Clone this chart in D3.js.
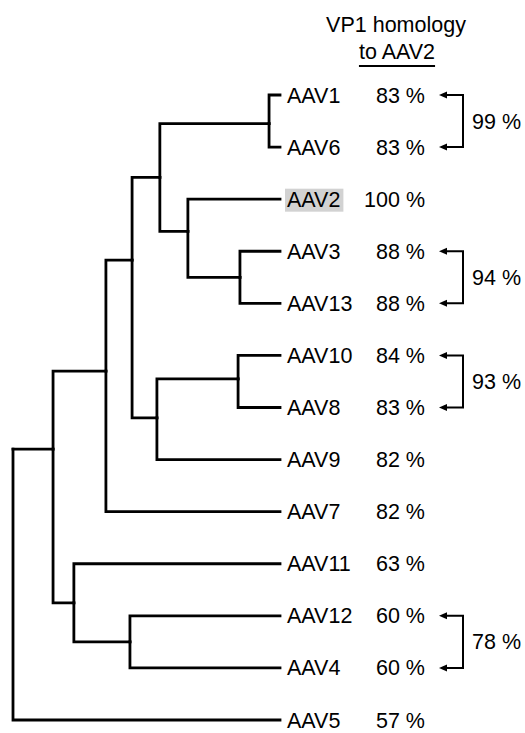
<!DOCTYPE html>
<html>
<head>
<meta charset="utf-8">
<script src="https://cdn.jsdelivr.net/npm/d3@7"></script>
<style>
  body { margin: 0; background: #fff; }
  svg { display: block; font-family: Arial, "Liberation Sans", sans-serif; }
</style>
</head>
<body>
<svg class="canvas" width="525" height="733"></svg>
<script>
// leaves, top to bottom
const leafNames = ["AAV1", "AAV6", "AAV2", "AAV3", "AAV13", "AAV10", "AAV8", "AAV9", "AAV7", "AAV11", "AAV12", "AAV4", "AAV5"];
const leafParents = ["n16", "n16", "n2313", "n313", "n313", "n108", "n108", "n157", "n106", "n74", "n124", "n124", "root"];
const homology = [83, 83, 100, 88, 88, 84, 83, 82, 82, 63, 60, 60, 57];

// internal nodes: depth 0 = root, 1 = tips, row in leaf units
const innerIds = ["root", "n53", "n106", "n132", "n159", "n16", "n2313", "n313", "n157", "n108", "n74", "n124"];
const innerParents = ["", "root", "n53", "n106", "n132", "n159", "n159", "n2313", "n132", "n157", "n53", "n74"];
const innerDepths = [0, 0.15, 0.348, 0.446, 0.55, 0.959, 0.655, 0.85, 0.539, 0.843, 0.228, 0.438];
const innerRows = [6.8, 6.8, 5.3, 3.17, 1.58, 0.55, 2.62, 3.5, 6.2, 5.45, 9.75, 10.5];

// pairwise identity brackets
const pairTop = ["AAV1", "AAV3", "AAV10", "AAV12"];
const pairBottom = ["AAV6", "AAV13", "AAV8", "AAV4"];
const pairIdentity = [99, 94, 93, 78];

const referenceLeaf = "AAV2";

const svg = d3.select(".canvas");
const fontSize = "21.5px";

// build the tree
const table = innerIds
  .map((id, i) => ({ id, parent: innerParents[i] || null, depth: innerDepths[i], row: innerRows[i] }))
  .concat(leafNames.map((id, i) => ({ id, parent: leafParents[i], depth: 1, row: i })));
const root = d3.stratify().id((d) => d.id).parentId((d) => d.parent)(table);

const xScale = d3.scaleLinear().domain([0, 1]).range([13, 280]);
const yScale = d3.scaleLinear().domain([0, leafNames.length - 1]).range([95, 720]);

// elbow links
svg
  .append("g")
  .selectAll("path")
  .data(root.links())
  .enter()
  .append("path")
  .attr("d", (l) =>
    `M${xScale(l.source.data.depth)},${yScale(l.source.data.row)}` +
    `V${yScale(l.target.data.row)}H${xScale(l.target.data.depth)}`
  )
  .attr("fill", "none")
  .attr("stroke", "#000")
  .attr("stroke-width", 2.8)
  .attr("stroke-linecap", "square");

// leaf names
const labelX = xScale(1) + 7;
const labels = svg
  .append("g")
  .selectAll("text")
  .data(leafNames)
  .enter()
  .append("text")
  .attr("x", labelX)
  .attr("y", (d, i) => yScale(i))
  .attr("dy", "0.35em")
  .style("font-size", fontSize)
  .text((d) => d);

// grey box behind the reference serotype
labels
  .filter((d) => d === referenceLeaf)
  .each(function () {
    const b = this.getBBox();
    svg
      .insert("rect", ":first-child")
      .attr("x", b.x - 2)
      .attr("y", b.y + 1)
      .attr("width", b.width + 5)
      .attr("height", b.height - 1)
      .attr("fill", "#d2d2d2");
  });

// homology column
svg
  .append("g")
  .selectAll("text")
  .data(homology)
  .enter()
  .append("text")
  .attr("x", 425)
  .attr("y", (d, i) => yScale(i))
  .attr("dy", "0.35em")
  .attr("text-anchor", "end")
  .style("font-size", fontSize)
  .text((d) => `${d} %`);

// column title
svg
  .append("text")
  .attr("x", 396)
  .attr("y", 32)
  .attr("text-anchor", "middle")
  .style("font-size", fontSize)
  .text("VP1 homology");
const sub = svg
  .append("text")
  .attr("x", 397)
  .attr("y", 59)
  .attr("text-anchor", "middle")
  .style("font-size", fontSize)
  .text("to AAV2");
const sb = sub.node().getBBox();
svg
  .append("line")
  .attr("x1", sb.x)
  .attr("x2", sb.x + sb.width)
  .attr("y1", 66)
  .attr("y2", 66)
  .attr("stroke", "#000")
  .attr("stroke-width", 2);

// brackets with arrows
const tipX = 439;
const bracketX = 463;
const br = svg.append("g");
pairTop.forEach((top, i) => {
  const y1 = yScale(leafNames.indexOf(top));
  const y2 = yScale(leafNames.indexOf(pairBottom[i]));
  br.append("path")
    .attr("d", `M${tipX + 5},${y1}H${bracketX}V${y2}H${tipX + 5}`)
    .attr("fill", "none")
    .attr("stroke", "#000")
    .attr("stroke-width", 2);
  [y1, y2].forEach((y) => {
    br.append("path")
      .attr("d", `M${tipX},${y}L${tipX + 8},${y - 3.5}L${tipX + 8},${y + 3.5}Z`)
      .attr("fill", "#000");
  });
  br.append("text")
    .attr("x", bracketX + 9)
    .attr("y", (y1 + y2) / 2)
    .attr("dy", "0.35em")
    .style("font-size", fontSize)
    .text(`${pairIdentity[i]} %`);
});
</script>
</body>
</html>
